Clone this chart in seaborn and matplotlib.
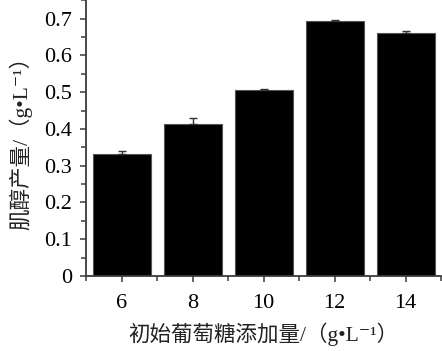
import numpy as np
import pandas as pd
import matplotlib
matplotlib.use("Agg")
import matplotlib.pyplot as plt
from matplotlib.ticker import MultipleLocator, FixedLocator
import seaborn as sns

glucose = ["6", "8", "10", "12", "14"]
inositol = [0.333, 0.414, 0.506, 0.693, 0.661]
err = [0.008, 0.015, 0.003, 0.003, 0.005]
yticks = [0, 0.1, 0.2, 0.3, 0.4, 0.5, 0.6, 0.7]
ytick_labels = ["0", "0.1", "0.2", "0.3", "0.4", "0.5", "0.6", "0.7"]

sns.set_theme(style="ticks")
plt.rcParams['font.family'] = ['Liberation Serif', 'Noto Sans CJK SC', 'DejaVu Serif']

df = pd.DataFrame({"glucose": glucose, "inositol": inositol})

fig = plt.figure(figsize=(4.42, 3.51), dpi=100)
ax = fig.add_axes([0.195, 0.2137, 0.803, 0.7863])

sns.barplot(data=df, x="glucose", y="inositol", color="black", width=0.82,
            errorbar=None, edgecolor="#555555", linewidth=0.8, saturation=1, ax=ax)
xpos = np.arange(len(glucose))
ax.errorbar(xpos, inositol, yerr=[np.zeros(len(err)), err], fmt="none",
            ecolor="#333333", elinewidth=1.0, capsize=3, capthick=1.0)

ax.set_xlim(-0.5, 4.5)
ax.set_ylim(0, 0.751)
ax.yaxis.set_major_locator(FixedLocator(yticks))
ax.set_yticklabels(ytick_labels)
ax.yaxis.set_minor_locator(MultipleLocator(0.05))
ax.xaxis.set_minor_locator(FixedLocator(np.arange(-0.5, 5, 1.0)))

sns.despine(ax=ax, top=True, right=True)
for s in ["left", "bottom"]:
    ax.spines[s].set_color("#3a3a3a")
    ax.spines[s].set_linewidth(1.3)

ax.tick_params(axis="both", which="major", direction="out", length=4, width=1.1,
               color="#3a3a3a", labelsize=16, labelcolor="black")
ax.tick_params(axis="y", which="major", pad=6)
ax.tick_params(axis="both", which="minor", direction="out", length=3.5, width=1.1,
               color="#3a3a3a")
ax.tick_params(axis="x", which="major", pad=9)

ax.set_xlabel("初始葡萄糖添加量/（g•L⁻¹）", fontsize=15.5, color="#222222", labelpad=7)
ax.set_ylabel("肌醇产量/（g•L⁻¹）", fontsize=15.5, color="#222222", labelpad=9)

fig.savefig("out.png", dpi=100)
